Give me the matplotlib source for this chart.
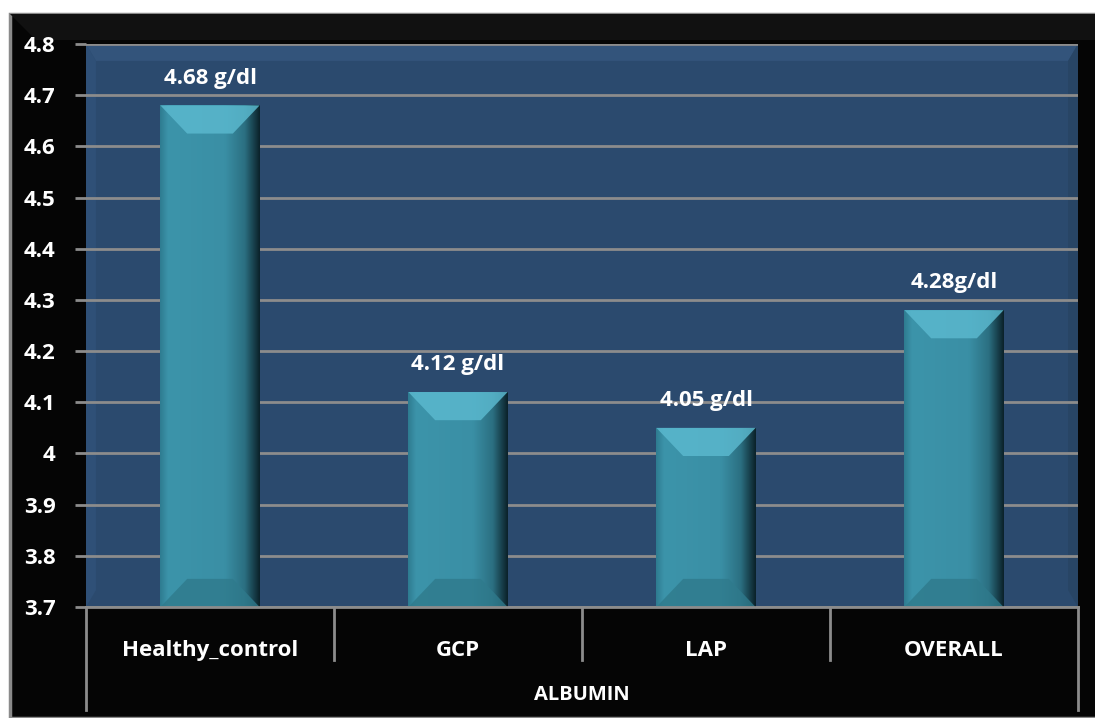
import matplotlib
matplotlib.use("Agg")
import matplotlib.pyplot as plt
import numpy as np
from matplotlib.patches import Rectangle, Polygon
from matplotlib.colors import LinearSegmentedColormap

categories = ["Healthy_control", "GCP", "LAP", "OVERALL"]
values = [4.68, 4.12, 4.05, 4.28]
bar_labels = ["4.68 g/dl", "4.12 g/dl", "4.05 g/dl", "4.28g/dl"]
group_label = "ALBUMIN"
yticks = [3.7, 3.8, 3.9, 4.0, 4.1, 4.2, 4.3, 4.4, 4.5, 4.6, 4.7, 4.8]
ytick_labels = ["3.7", "3.8", "3.9", "4", "4.1", "4.2", "4.3", "4.4", "4.5", "4.6", "4.7", "4.8"]

plt.rcParams['font.family'] = ['Open Sans', 'DejaVu Sans']
plt.rcParams['font.weight'] = 'bold'

W, H = 1095, 718
fig = plt.figure(figsize=(W / 100, H / 100), dpi=100)
fig.patch.set_facecolor("white")

# outer black chart frame
frame = Rectangle((10 / W, 0), 1.0, 1 - 14 / H, transform=fig.transFigure,
                  facecolor="#050505", edgecolor="#8a8a8a", linewidth=2.5, zorder=0)
fig.patches.append(frame)
fb = Polygon([(10 / W, 1 - 14 / H), (1.0, 1 - 14 / H), (1.0, 1 - 40 / H), (36 / W, 1 - 40 / H)],
             closed=True, transform=fig.transFigure, facecolor="#111111", edgecolor="none", zorder=0.5)
fig.patches.append(fb)

ax = fig.add_axes([86 / W, (H - 607) / H, (1078 - 86) / W, (607 - 44) / H])
ax.set_facecolor("#2b4a6e")
ax.set_zorder(1)

# subtle plot area bevels
bx_, by_ = 0.01, 0.03
ax.add_patch(Polygon([(0, 1), (1, 1), (1 - bx_, 1 - by_), (bx_, 1 - by_)], closed=True,
                     transform=ax.transAxes, facecolor="#33547b", edgecolor="none", zorder=0.2))
ax.add_patch(Polygon([(0, 1), (bx_, 1 - by_), (bx_, by_), (0, 0)], closed=True,
                     transform=ax.transAxes, facecolor="#2f5077", edgecolor="none", zorder=0.2))
ax.add_patch(Polygon([(1, 1), (1 - bx_, 1 - by_), (1 - bx_, by_), (1, 0)], closed=True,
                     transform=ax.transAxes, facecolor="#284565", edgecolor="none", zorder=0.2))

ymin, ymax = 3.7, 4.8
ax.set_ylim(ymin, ymax)
ax.set_xlim(-0.5, len(categories) - 0.5)

ax.set_yticks(yticks)
ax.set_yticklabels(ytick_labels)
ax.yaxis.grid(True, color="#8c8c8c", linewidth=2, zorder=0.5)
ax.set_axisbelow(True)
ax.tick_params(axis="y", colors="#8c8c8c", length=8, width=2, labelcolor="white",
               labelsize=16, pad=14)
for lab in ax.get_yticklabels():
    lab.set_fontweight("bold")

x = np.arange(len(categories))
width = 0.4
bars = ax.bar(x, [v - ymin for v in values], width, bottom=ymin, color="#3a8fa5",
              edgecolor="none", zorder=2)

cmap = LinearSegmentedColormap.from_list(
    "barshade", [(0.0, "#2e7b90"), (0.08, "#3c94aa"), (0.65, "#3a8fa5"),
                 (0.85, "#2b6f81"), (1.0, "#0b2129")])
grad = np.linspace(0, 1, 256).reshape(1, -1)
dy = 0.055
for b, v in zip(bars, values):
    x0 = b.get_x()
    w = b.get_width()
    im = ax.imshow(grad, extent=(x0, x0 + w, ymin, v), aspect="auto", cmap=cmap,
                   zorder=2.1, interpolation="bicubic")
    im.set_clip_path(b)
    dx = 0.27 * w
    ax.add_patch(Polygon([(x0, v), (x0 + w, v), (x0 + w - dx, v - dy), (x0 + dx, v - dy)],
                         closed=True, facecolor="#5ab8ce", edgecolor="none", alpha=0.85, zorder=2.2))
    ax.add_patch(Polygon([(x0, ymin), (x0 + w, ymin), (x0 + w - dx, ymin + dy), (x0 + dx, ymin + dy)],
                         closed=True, facecolor="#2f7a8c", edgecolor="none", alpha=0.8, zorder=2.2))

for xi, v, lab in zip(x, values, bar_labels):
    ax.annotate(lab, (xi, v), xytext=(0, 12), textcoords="offset points", ha="center",
                va="bottom", color="white", fontsize=16, fontweight="bold", zorder=3)

# category axis
ax.set_xticks(x)
ax.set_xticklabels(categories)
ax.tick_params(axis="x", length=0, pad=24, labelcolor="white", labelsize=16)
for lab in ax.get_xticklabels():
    lab.set_fontweight("bold")

for s in ["top", "right", "left"]:
    ax.spines[s].set_visible(False)
ax.spines["bottom"].set_color("#8c8c8c")
ax.spines["bottom"].set_linewidth(2)

axh = 607 - 44
bt = ax.get_xaxis_transform()
for i, bx in enumerate(np.arange(-0.5, len(categories), 1.0)):
    depth = -103 / axh if i in (0, len(categories)) else -53 / axh
    ax.plot([bx, bx], [0, depth], transform=bt, color="#8c8c8c", linewidth=2, clip_on=False)

ax.text(0.5, -88 / axh, group_label, transform=ax.transAxes, ha="center", va="center",
        color="white", fontsize=14.5, fontweight="bold")

fig.savefig("out.png", dpi=100, facecolor=fig.get_facecolor())
